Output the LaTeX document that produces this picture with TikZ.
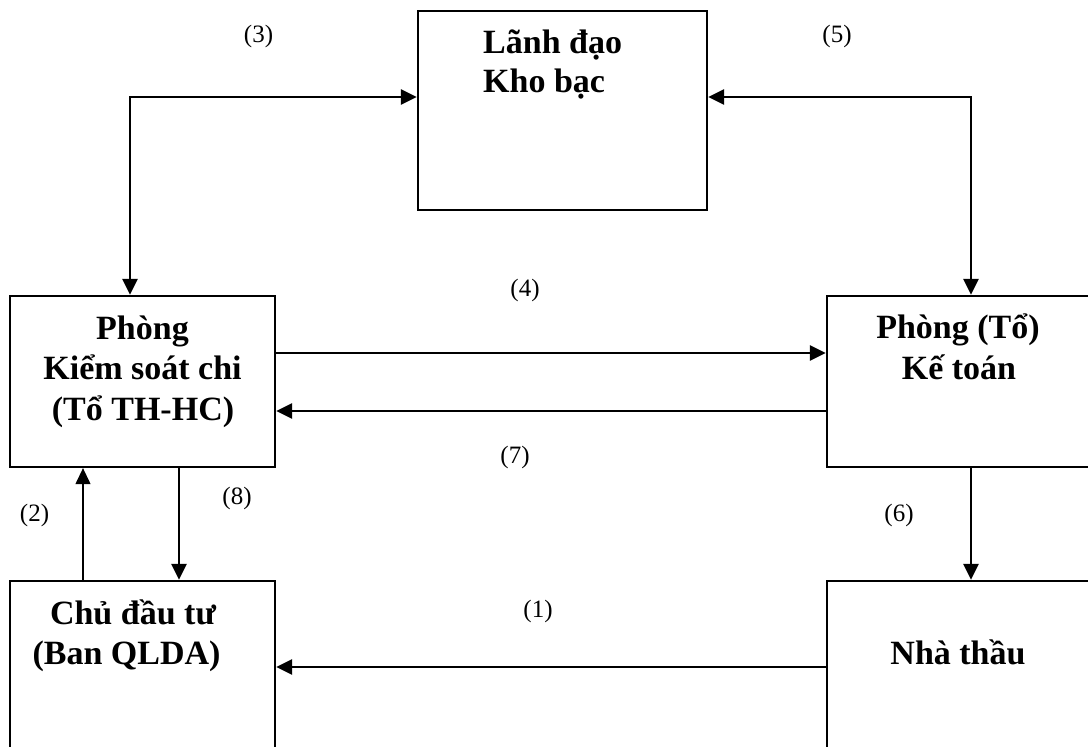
\documentclass[tikz,border=0pt]{standalone}
\usepackage{fontspec}
\setmainfont{Liberation Serif}
\usetikzlibrary{arrows.meta}
\begin{document}
\begin{tikzpicture}[x=1pt,y=-1pt,
  box/.style={draw, line width=2.3pt, rectangle, inner sep=0pt},
  btxt/.style={font=\fontsize{34}{40}\selectfont\bfseries, inner sep=0pt},
  lbl/.style={font=\fontsize{25}{30}\selectfont, inner sep=0pt},
  tipA/.tip={Triangle[length=16pt,width=15pt]},
  conn/.style={line width=2.4pt, -tipA},
  bothconn/.style={line width=2.4pt, tipA-tipA},
  thinconn/.style={line width=1.2pt, -tipA}]
\useasboundingbox (0,0) rectangle (1088,747);
\fill[white] (0,0) rectangle (1088,747);
% boxes
\node[box, minimum width=289pt, minimum height=199pt] (lanh) at (562.5,110.5) {};
\node[box, minimum width=265pt, minimum height=171pt] (kscs) at (142.5,381.5) {};
\node[box, minimum width=263pt, minimum height=171pt] (keto) at (958.5,381.5) {};
\node[box, minimum width=265pt, minimum height=200pt] (cdt) at (142.5,681) {};
\node[box, minimum width=263pt, minimum height=200pt] (nt) at (958.5,681) {};
% texts
\node[btxt, anchor=base west] (t1a) at (483,53) {Lãnh đạo};
\node[btxt, anchor=base west] (t1b) at (483,92) {Kho bạc};
\node[btxt, anchor=base] (t2a) at (142.5,339) {Phòng};
\node[btxt, anchor=base] (t2b) at (142.5,379) {Kiểm soát chi};
\node[btxt, anchor=base] (t2c) at (143,420) {(Tổ TH-HC)};
\node[btxt, anchor=base] (t3a) at (958,338) {Phòng (Tổ)};
\node[btxt, anchor=base] (t3b) at (959,379) {Kế toán};
\node[btxt, anchor=base] (t4a) at (133,624) {Chủ đầu tư};
\node[btxt, anchor=base] (t4b) at (126.5,664) {(Ban QLDA)};
\node[btxt, anchor=base] (t5a) at (958,664) {Nhà thầu};
% connectors
\coordinate (c3) at (130,97);
\coordinate (c5) at (971,97);
\coordinate (y4) at (0,353);
\coordinate (y7) at (0,411);
\coordinate (x8) at (179,0);
\coordinate (x2) at (83,0);
\coordinate (y1) at (0,667);
\draw[bothconn] (kscs.north -| c3) -- (c3) -- (lanh.west |- c3);
\draw[bothconn] (lanh.east |- c5) -- (c5) -- (keto.north -| c5);
\draw[conn] (kscs.east |- y4) -- (keto.west |- y4);
\draw[conn] (keto.west |- y7) -- (kscs.east |- y7);
\draw[conn] (kscs.south -| x8) -- (cdt.north -| x8);
\draw[thinconn] (cdt.north -| x2) -- (kscs.south -| x2);
\draw[conn] (keto.south -| c5) -- (nt.north -| c5);
\draw[conn] (nt.west |- y1) -- (cdt.east |- y1);
% labels
\node[lbl] (l3) at (258.5,36) {(3)};
\node[lbl] (l5) at (837,36) {(5)};
\node[lbl] (l4) at (525,290) {(4)};
\node[lbl] (l7) at (515,457) {(7)};
\node[lbl] (l8) at (237,498) {(8)};
\node[lbl] (l2) at (34.5,515) {(2)};
\node[lbl] (l6) at (899,515) {(6)};
\node[lbl] (l1) at (538,611) {(1)};
\end{tikzpicture}
\end{document}
